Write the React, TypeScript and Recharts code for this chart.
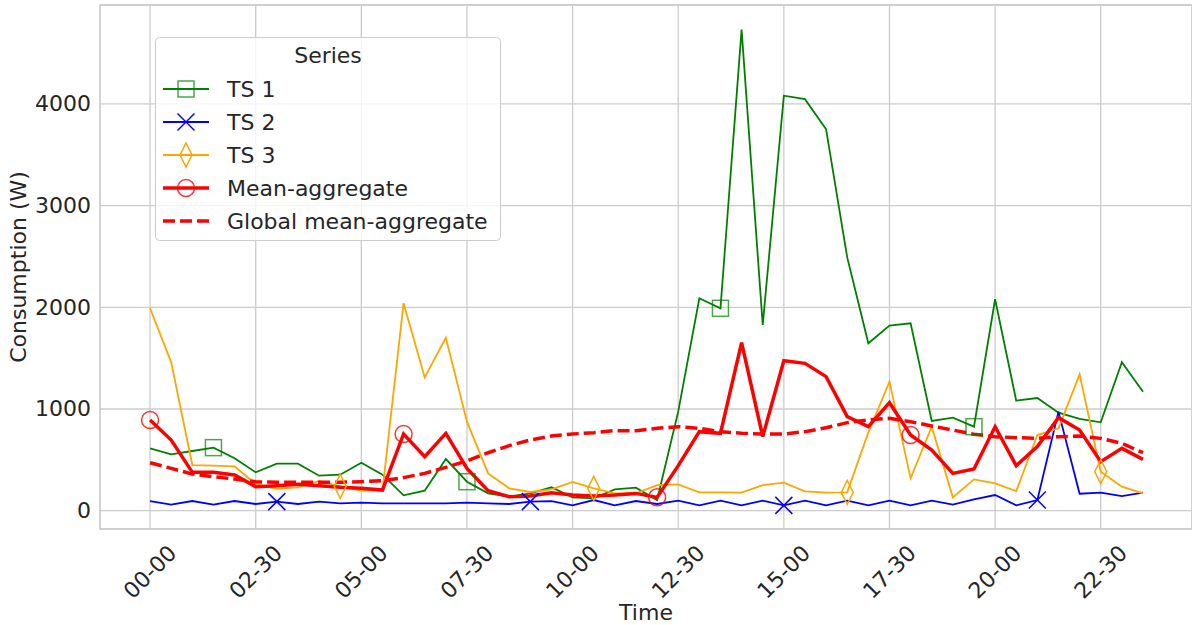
import { CartesianGrid, Label, Legend, Line, LineChart, ReferenceArea, XAxis, YAxis } from 'recharts'

const times = [
	'00-00', '00-30', '01-00', '01-30', '02-00', '02-30', '03-00', '03-30', '04-00', '04-30', '05-00', '05-30',
	'06-00', '06-30', '07-00', '07-30', '08-00', '08-30', '09-00', '09-30', '10-00', '10-30', '11-00', '11-30',
	'12-00', '12-30', '13-00', '13-30', '14-00', '14-30', '15-00', '15-30', '16-00', '16-30', '17-00', '17-30',
	'18-00', '18-30', '19-00', '19-30', '20-00', '20-30', '21-00', '21-30', '22-00', '22-30', '23-00', '23-30',
]
const xTicks = [0, 5, 10, 15, 20, 25, 30, 35, 40, 45]
const yTicks = [0, 1000, 2000, 3000, 4000]

const ts1 = [
	613, 554, 587, 620, 515, 377, 462, 462, 344, 354, 472, 354,
	151, 197, 508, 285, 170, 138, 170, 230, 131, 121, 210, 226,
	105, 974, 2089, 1990, 4730, 1826, 4080, 4046, 3750, 2490, 1646, 1820,
	1843, 882, 915, 826, 2079, 1082, 1108, 964, 902, 869, 1459, 1170,
]
const ts2 = [
	95, 59, 95, 59, 95, 66, 89, 66, 89, 72, 79, 72,
	72, 72, 72, 79, 72, 66, 89, 95, 52, 105, 52, 95,
	66, 98, 52, 98, 52, 98, 52, 98, 52, 98, 52, 98,
	52, 98, 59, 111, 154, 52, 105, 974, 167, 177, 144, 177,
]
const ts3 = [
	1990, 1459, 449, 443, 436, 262, 216, 230, 292, 240, 197, 197,
	2040, 1310, 1700, 875, 367, 220, 184, 210, 282, 220, 170, 170,
	252, 259, 180, 180, 177, 252, 275, 190, 177, 180, 770, 1269,
	318, 826, 131, 308, 269, 193, 744, 810, 1341, 384, 236, 170,
]
const meanAgg = [
	892, 695, 377, 377, 351, 236, 246, 259, 246, 230, 220, 203,
	754, 531, 760, 416, 197, 138, 144, 177, 154, 144, 154, 170,
	131, 443, 777, 761, 1652, 728, 1475, 1449, 1318, 925, 826, 1062,
	744, 597, 367, 410, 826, 443, 630, 915, 793, 482, 613, 505,
]
const globalMean = [
	472, 416, 360, 334, 311, 285, 279, 279, 279, 279, 285, 295,
	325, 367, 426, 489, 570, 640, 695, 734, 754, 767, 787, 787,
	810, 826, 810, 777, 761, 754, 754, 777, 815, 866, 892, 908,
	875, 833, 793, 751, 728, 718, 711, 728, 734, 711, 662, 570,
]

const data = times.map((t, i) => ({
	i,
	time: t,
	ts1: ts1[i],
	ts2: ts2[i],
	ts3: ts3[i],
	mean: meanAgg[i],
	global: globalMean[i],
}))

const FONT = '"DejaVu Sans", sans-serif'
const TEXT = '#262626'
const GRID = '#cccccc'
const X_DOMAIN = [-2.37, 49.32]
const Y_DOMAIN = [-180, 4972]
const THIN = 1.8
const THICK = 3.5
const DASH = '12 5'

const square = (cx: number, cy: number) => (
	<rect x={cx - 8} y={cy - 8} width={16} height={16} fill='none' stroke='#008000' strokeOpacity={0.7} strokeWidth={1.5} />
)
const cross = (cx: number, cy: number) => (
	<g stroke='#0000ff' strokeWidth={1.5}>
		<line x1={cx - 8.5} y1={cy - 8.5} x2={cx + 8.5} y2={cy + 8.5} />
		<line x1={cx - 8.5} y1={cy + 8.5} x2={cx + 8.5} y2={cy - 8.5} />
	</g>
)
const diamond = (cx: number, cy: number) => (
	<polygon
		points={`${cx},${cy - 12} ${cx + 6},${cy} ${cx},${cy + 12} ${cx - 6},${cy}`}
		fill='none'
		stroke='#ffa500'
		strokeWidth={1.5}
	/>
)
const circle = (cx: number, cy: number) => (
	<circle cx={cx} cy={cy} r={8.5} fill='none' stroke='#ff0000' strokeOpacity={0.8} strokeWidth={1.5} />
)

// markers every 12 points, each series with its own offset
const markEvery = (offset: number, draw: (cx: number, cy: number) => React.ReactElement, name: string) => (props: any) => {
	const { cx, cy, index } = props
	if (index % 12 !== offset || cx == null || cy == null) return <g key={`${name}-${index}`} />
	return <g key={`${name}-${index}`}>{draw(cx, cy)}</g>
}

const legendRows = [
	{ label: 'TS 1', color: '#008000', width: THIN, dash: undefined, marker: square },
	{ label: 'TS 2', color: '#0000ff', width: THIN, dash: undefined, marker: cross },
	{ label: 'TS 3', color: '#ffa500', width: THIN, dash: undefined, marker: diamond },
	{ label: 'Mean-aggregate', color: '#ff0000', width: THICK, dash: undefined, marker: circle },
	{ label: 'Global mean-aggregate', color: '#ff0000', width: THICK, dash: DASH, marker: null },
]

const LegendBox = () => (
	<svg width={347} height={205} style={{ display: 'block' }}>
		<rect x={0.5} y={0.5} width={345} height={203} rx={4} fill='#ffffff' fillOpacity={0.8} stroke={GRID} />
		<text x={173} y={26} textAnchor='middle' fontFamily={FONT} fontSize={22} fill={TEXT}>
			Series
		</text>
		{legendRows.map((r, k) => {
			const cy = 52 + k * 33
			return (
				<g key={r.label}>
					<line x1={8} x2={54} y1={cy} y2={cy} stroke={r.color} strokeWidth={r.width} strokeDasharray={r.dash} />
					{r.marker ? r.marker(31, cy) : null}
					<text x={72} y={cy + 8} fontFamily={FONT} fontSize={22} fill={TEXT}>
						{r.label}
					</text>
				</g>
			)
		})}
	</svg>
)

const XTick = (props: any) => {
	const { x, payload } = props
	return (
		<text
			x={x}
			y={572}
			transform={`rotate(-45 ${x} 572)`}
			textAnchor='middle'
			dominantBaseline='central'
			fontFamily={FONT}
			fontSize={22}
			fill={TEXT}
		>
			{times[payload.value]}
		</text>
	)
}

const YTick = (props: any) => {
	const { y, payload } = props
	return (
		<text x={91} y={y} textAnchor='end' dominantBaseline='central' fontFamily={FONT} fontSize={22} fill={TEXT}>
			{payload.value}
		</text>
	)
}

export default function App() {
	return (
		<div style={{ position: 'absolute', left: 0, top: 0 }}>
			<LineChart width={1192} height={625} data={data} margin={{ top: 5, right: 0, bottom: 0, left: 0 }}>
				<CartesianGrid stroke={GRID} strokeWidth={1.3} />
				<XAxis
					dataKey='i'
					type='number'
					domain={X_DOMAIN}
					ticks={xTicks}
					allowDataOverflow
					height={96}
					tickLine={false}
					axisLine={false}
					tick={<XTick />}
				>
					<Label
						content={() => (
							<text x={646} y={620} textAnchor='middle' fontFamily={FONT} fontSize={22} fill={TEXT}>
								Time
							</text>
						)}
					/>
				</XAxis>
				<YAxis
					type='number'
					domain={Y_DOMAIN}
					ticks={yTicks}
					allowDataOverflow
					width={100}
					tickLine={false}
					axisLine={false}
					tick={<YTick />}
				>
					<Label
						content={() => (
							<text
								x={26}
								y={267}
								transform='rotate(-90 26 267)'
								textAnchor='middle'
								fontFamily={FONT}
								fontSize={22}
								fill={TEXT}
							>
								Consumption (W)
							</text>
						)}
					/>
				</YAxis>
				<ReferenceArea
					x1={X_DOMAIN[0]}
					x2={X_DOMAIN[1]}
					y1={Y_DOMAIN[0]}
					y2={Y_DOMAIN[1]}
					fill='none'
					stroke={GRID}
					strokeWidth={1.3}
					ifOverflow='visible'
				/>
				<Line dataKey='ts1' stroke='#008000' strokeWidth={THIN} dot={markEvery(3, square, 'ts1')} activeDot={false} isAnimationActive={false} />
				<Line dataKey='ts2' stroke='#0000ff' strokeWidth={THIN} dot={markEvery(6, cross, 'ts2')} activeDot={false} isAnimationActive={false} />
				<Line dataKey='ts3' stroke='#ffa500' strokeWidth={THIN} dot={markEvery(9, diamond, 'ts3')} activeDot={false} isAnimationActive={false} />
				<Line dataKey='mean' stroke='#ff0000' strokeWidth={THICK} dot={markEvery(0, circle, 'mean')} activeDot={false} isAnimationActive={false} />
				<Line dataKey='global' stroke='#ff0000' strokeWidth={THICK} strokeDasharray={DASH} dot={false} activeDot={false} isAnimationActive={false} />
				<Legend
					layout='vertical'
					align='center'
					verticalAlign='middle'
					content={() => <LegendBox />}
					wrapperStyle={{ position: 'absolute', left: 155, top: 37, width: 347, height: 205 }}
				/>
			</LineChart>
		</div>
	)
}
